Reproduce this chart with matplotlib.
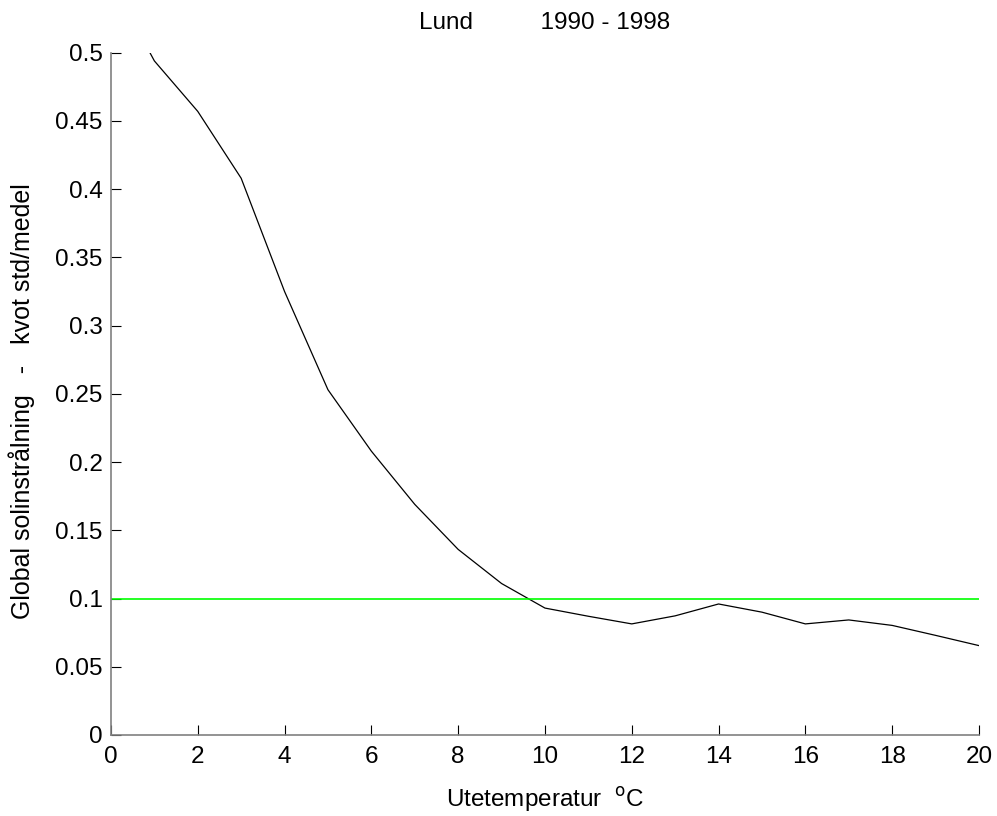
import numpy as np
import matplotlib
matplotlib.use('Agg')
import matplotlib.pyplot as plt

plt.rcParams['font.family'] = ['Liberation Sans', 'DejaVu Sans']

# utetemperatur (C) och kvot std/medel
temp = np.arange(0, 21)
kvot = np.array([
	0.553, 0.494, 0.457, 0.408, 0.325, 0.253, 0.208, 0.169, 0.136, 0.111,
	0.093, 0.087, 0.0814, 0.0873, 0.096, 0.090, 0.0814, 0.0843, 0.0803,
	0.073, 0.0655
])
grans = 0.1

fig = plt.figure(figsize=(9.97, 8.16), dpi=100)
ax = fig.add_axes([0.1113, 0.0993, 0.8706, 0.8361])

ax.plot(temp, kvot, '-', color='black', linewidth=0.9)
ax.plot([0, 20], [grans, grans], '-', color='#00ff00', linewidth=1.2)

ax.set_xlim(0, 20)
ax.set_ylim(0, 0.5)
ax.set_xticks(np.arange(0, 21, 2))
ax.set_yticks(np.arange(0, 0.51, 0.05))
ax.set_yticklabels(['0', '0.05', '0.1', '0.15', '0.2', '0.25', '0.3',
	'0.35', '0.4', '0.45', '0.5'])

for s in ['top', 'right']:
	ax.spines[s].set_visible(False)
for s in ['left', 'bottom']:
	ax.spines[s].set_color('#808080')
	ax.spines[s].set_linewidth(1.2)
ax.tick_params(direction='in', length=7, width=0.8, labelsize=17.5, pad=6)
ax.tick_params(axis='x', pad=8)

ax.set_title('Lund          1990 - 1998', fontsize=17.5, pad=17)
ax.set_xlabel('Utetemperatur  $^{\\mathrm{o}}$C', fontsize=17.5, labelpad=12)
ax.set_ylabel('Global solinstrålning   -   kvot std/medel', fontsize=18)
ax.yaxis.set_label_coords(-0.088, 0.49)

fig.savefig('out.png', dpi=100)
